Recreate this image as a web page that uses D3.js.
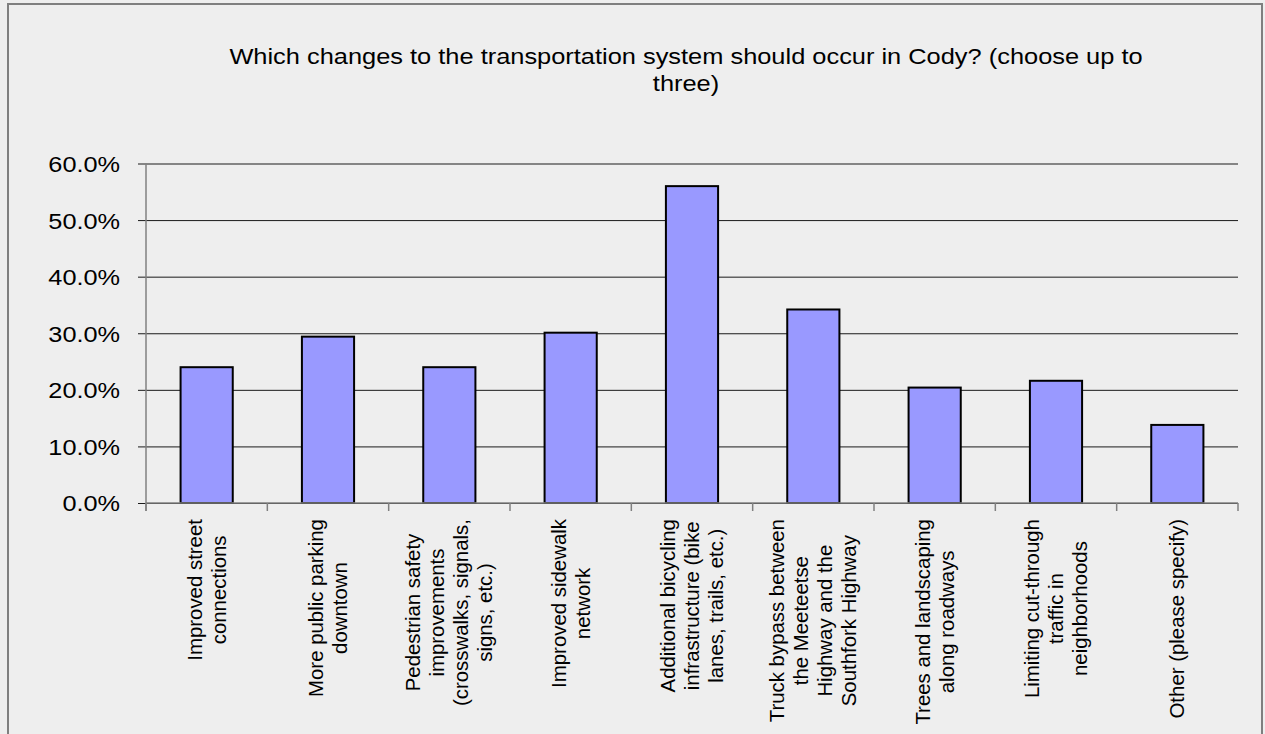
<!DOCTYPE html>
<html>
<head>
<meta charset="utf-8">
<script src="https://cdnjs.cloudflare.com/ajax/libs/d3/7.8.5/d3.min.js"></script>
<style>
	html, body { margin: 0; padding: 0; background: #eeeeee; }
	svg { display: block; font-family: "Liberation Sans", Arial, sans-serif; }
</style>
</head>
<body>
<div id="chart" style="width:1265px;height:734px"></div>
<script>
// survey answers, share of respondents
const categories = [
	["Improved street", "connections"],
	["More public parking", "downtown"],
	["Pedestrian safety", "improvements", "(crosswalks, signals,", "signs, etc.)"],
	["Improved sidewalk", "network"],
	["Additional bicycling", "infrastructure (bike", "lanes, trails, etc.)"],
	["Truck bypass between", "the Meeteetse", "Highway and the", "Southfork Highway"],
	["Trees and landscaping", "along roadways"],
	["Limiting cut-through", "traffic in", "neighborhoods"],
	["Other (please specify)"]
];
const values = [0.240, 0.294, 0.240, 0.301, 0.560, 0.342, 0.204, 0.216, 0.138];
const yTicks = [0, 0.1, 0.2, 0.3, 0.4, 0.5, 0.6];
const titleLines = ["Which changes to the transportation system should occur in Cody? (choose up to", "three)"];

const width = 1265;
const height = 734;
const margin = {t: 163.5, r: 27, b: 231, l: 146};
const w = width - margin.l - margin.r;
const h = height - margin.t - margin.b;

// the source renders its type a bit wider than Arial
const stretchTitle = 1.155;
const stretchTick = 1.15;
const stretchLabel = 1.02;

const svg = d3.select('#chart').append('svg')
	.attr('width', width)
	.attr('height', height);

// chart frame
svg.append('rect')
	.attr('x', 8).attr('y', 4)
	.attr('width', 1254).attr('height', 740)
	.attr('fill', '#eeeeee')
	.attr('stroke', '#7f7f7f')
	.attr('stroke-width', 2);

// title
svg.append('text')
	.attr('transform', `translate(686,64) scale(${stretchTitle},1)`)
	.attr('text-anchor', 'middle')
	.style('font-size', '22px')
	.style('fill', '#000')
	.selectAll('tspan')
	.data(titleLines)
	.enter().append('tspan')
	.attr('x', 0)
	.attr('dy', (d, i) => i ? 27 : 0)
	.text(d => d);

//Scales
const scaleX = d3.scaleBand().domain(d3.range(categories.length)).range([0, w]).paddingInner(0.57).paddingOuter(0.285);
const bandX = d3.scaleBand().domain(d3.range(categories.length)).range([0, w]);
const scaleY = d3.scaleLinear().domain([0, 0.6]).range([h, 0]);

const plot = svg.append('g')
	.attr('transform', `translate(${margin.l},${margin.t})`);

// gridlines + y axis
const axisY = d3.axisLeft()
	.scale(scaleY)
	.tickValues(yTicks)
	.tickSize(-w)
	.tickPadding(0)
	.tickFormat(d3.format('.1%'));

const axisYNode = plot.append('g')
	.attr('class', 'axis-y')
	.call(axisY);

axisYNode.select('.domain').remove();
axisYNode.selectAll('line')
	.attr('x1', -8)
	.style('stroke', '#1a1a1a')
	.style('stroke-width', 1);
axisYNode.selectAll('text')
	.attr('x', -26 / stretchTick)
	.attr('dy', '0.36em')
	.attr('transform', `scale(${stretchTick},1)`)
	.style('font-family', '"Liberation Sans", Arial, sans-serif')
	.style('font-size', '22px')
	.style('fill', '#000');

// vertical axis line
plot.append('line')
	.attr('x1', 0).attr('x2', 0)
	.attr('y1', 0).attr('y2', h + 8)
	.style('stroke', '#808080')
	.style('stroke-width', 1.5);

// bars
plot.selectAll('.bar')
	.data(values)
	.enter().append('rect')
	.attr('class', 'bar')
	.attr('x', (d, i) => scaleX(i))
	.attr('width', scaleX.bandwidth())
	.attr('y', d => scaleY(d))
	.attr('height', d => h - scaleY(d))
	.attr('fill', '#9999ff')
	.attr('stroke', '#000')
	.attr('stroke-width', 2);

// x axis
const axisXNode = plot.append('g')
	.attr('class', 'axis-x')
	.attr('transform', `translate(0,${h})`);

axisXNode.append('line')
	.attr('x1', 0).attr('x2', w)
	.style('stroke', '#808080')
	.style('stroke-width', 1.5);

axisXNode.selectAll('.tick')
	.data(d3.range(categories.length + 1))
	.enter().append('line')
	.attr('class', 'tick')
	.attr('x1', d => d * bandX.bandwidth())
	.attr('x2', d => d * bandX.bandwidth())
	.attr('y1', 0).attr('y2', 8)
	.style('stroke', '#808080')
	.style('stroke-width', 1.5);

// category labels, rotated, lines centred on the longest one
const linePitch = 24;
const labels = axisXNode.selectAll('.label')
	.data(categories)
	.enter().append('text')
	.attr('class', 'label')
	.attr('text-anchor', 'middle')
	.style('font-size', '20px')
	.style('fill', '#000');

labels.each(function(lines, i) {
	const t = d3.select(this);
	const cx = bandX(i) + bandX.bandwidth() / 2;
	t.selectAll('tspan')
		.data(lines)
		.enter().append('tspan')
		.attr('x', 0)
		.attr('y', (d, k) => (k - (lines.length - 1) / 2) * linePitch)
		.attr('dy', '0.35em')
		.text(d => d);
	let maxLen = 0;
	t.selectAll('tspan').each(function() {
		maxLen = Math.max(maxLen, this.getComputedTextLength());
	});
	t.attr('transform', `translate(${cx},${16 + maxLen * stretchLabel / 2}) rotate(-90) scale(${stretchLabel},1)`);
});
</script>
</body>
</html>
